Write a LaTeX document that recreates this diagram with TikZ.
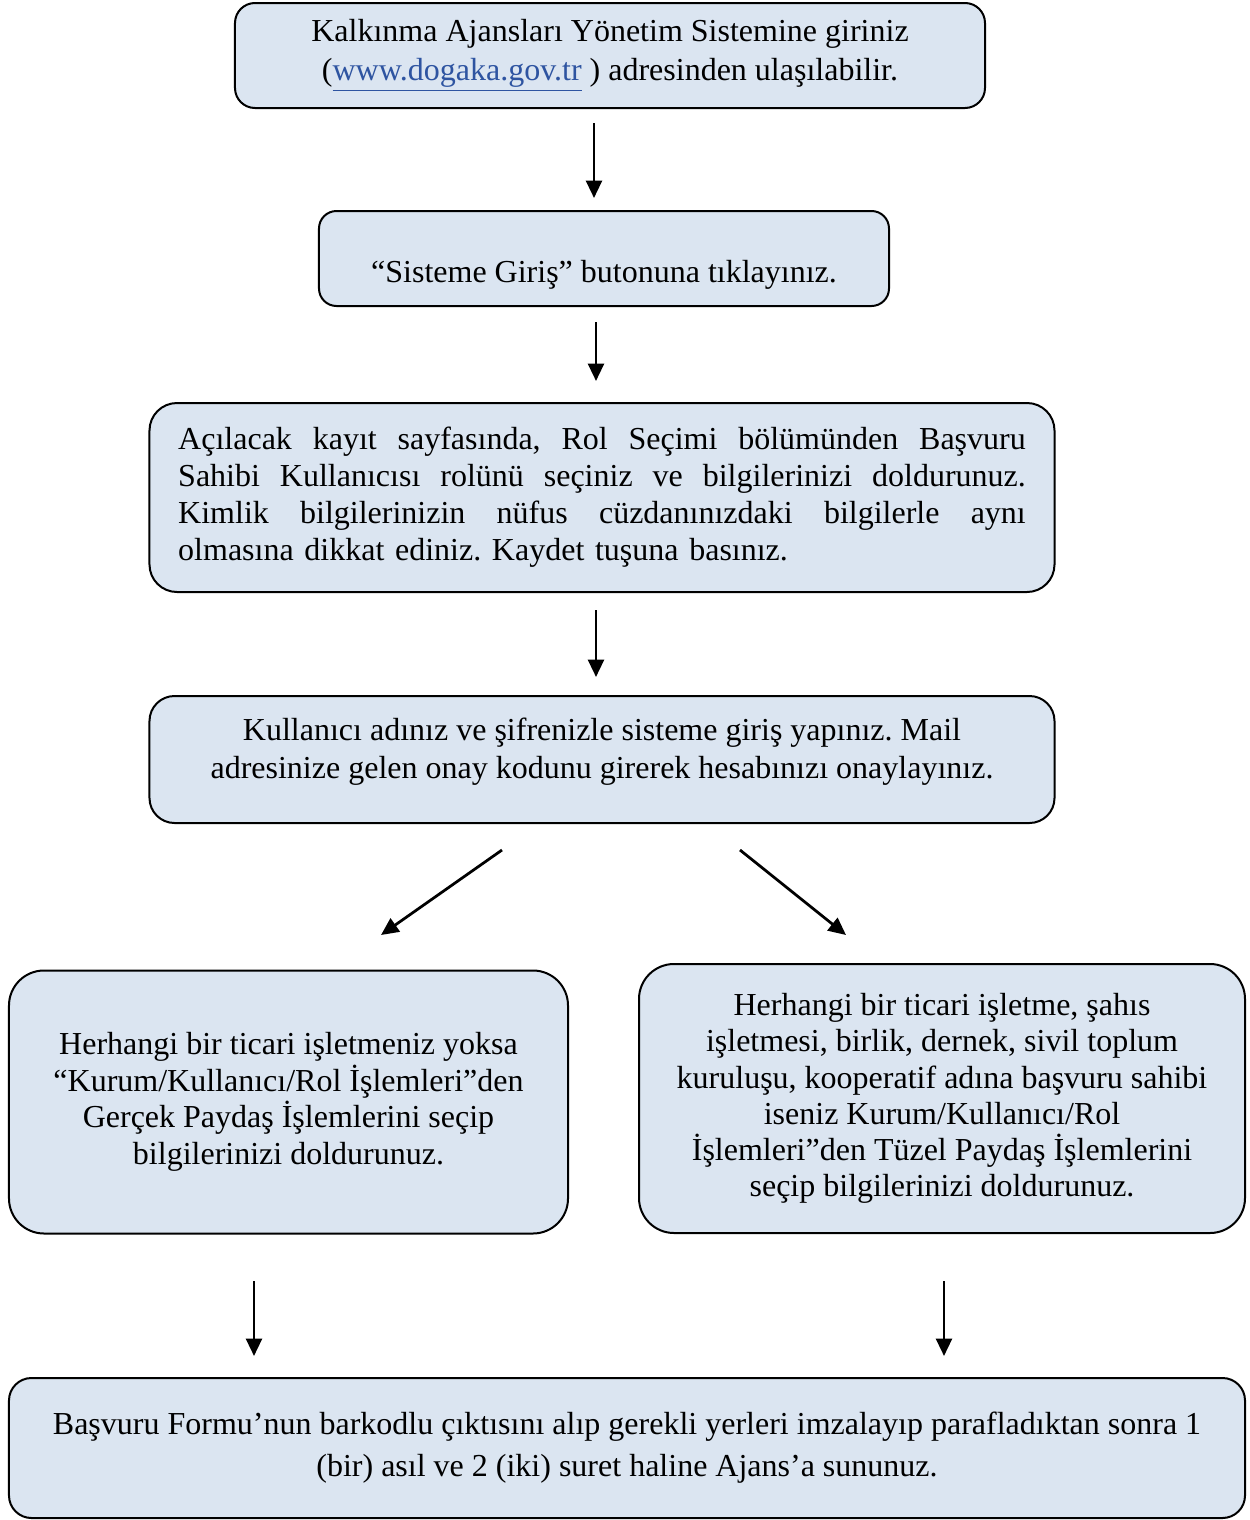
\documentclass[tikz,border=0pt]{standalone}
\usepackage{fontspec}
\setmainfont{Liberation Serif}
\usetikzlibrary{arrows.meta}
\definecolor{boxfill}{HTML}{DBE5F1}
\definecolor{linkblue}{HTML}{2E54A1}
\frenchspacing
\newcommand{\boxfont}[1]{\fontsize{12.8}{#1}\selectfont}
\newcommand{\fullline}[1]{\noindent\hbox to 339pt{\spaceskip=3.2pt plus 1fil\relax #1}}
\tikzset{
	stepbox/.style={draw=black, fill=boxfill, line width=0.8pt, rounded corners=10pt, inner sep=0pt, align=center, font=\boxfont{15}},
	flow/.style={->, line width=1.1pt}
}
\begin{document}
\begin{tikzpicture}[x=0.4pt, y=-0.4pt, >={Triangle[length=7pt, width=6.4pt]}]
			\useasboundingbox (0,0) rectangle (1249,1520);
			% boxes
			\node[stepbox, rounded corners=8pt, minimum width=300pt, minimum height=42pt, font=\boxfont{15.6}] (giris) at (610,55.5)
				{Kalkınma Ajansları Yönetim Sistemine giriniz\\(\textcolor{linkblue}{\underline{www.dogaka.gov.tr}} ) adresinden ulaşılabilir.};
			\node[stepbox, rounded corners=7pt, minimum width=228pt, minimum height=38pt, text height=22pt, text depth=3pt] (buton) at (604,258.5)
				{“Sisteme Giriş” butonuna tıklayınız.};
			\node[stepbox, rounded corners=11pt, minimum width=362pt, minimum height=75.6pt, text width=339pt, align=left, font=\boxfont{14.8}] (kayit) at (602,497.5)
				{\fullline{Açılacak kayıt sayfasında, Rol Seçimi bölümünden Başvuru}\\
				 \fullline{Sahibi Kullanıcısı rolünü seçiniz ve bilgilerinizi doldurunuz.}\\
				 \fullline{Kimlik bilgilerinizin nüfus cüzdanınızdaki bilgilerle aynı}\\
				 olmasına dikkat ediniz. Kaydet tuşuna basınız.};
			\node[stepbox, minimum width=362pt, minimum height=50.8pt, font=\boxfont{15.2}, text height=24.2pt, text depth=9.2pt] (onay) at (602,759.5)
				{Kullanıcı adınız ve şifrenizle sisteme giriş yapınız. Mail\\adresinize gelen onay kodunu girerek hesabınızı onaylayınız.};
			\node[stepbox, rounded corners=14pt, minimum width=223.6pt, minimum height=105.2pt, font=\boxfont{14.6}] (gercek) at (288.5,1102)
				{Herhangi bir ticari işletmeniz yoksa\\“Kurum/Kullanıcı/Rol İşlemleri”den\\Gerçek Paydaş İşlemlerini seçip\\bilgilerinizi doldurunuz.};
			\node[stepbox, rounded corners=14pt, minimum width=242.4pt, minimum height=107.6pt, font=\boxfont{14.5}] (tuzel) at (942,1098.5)
				{Herhangi bir ticari işletme, şahıs\\işletmesi, birlik, dernek, sivil toplum\\kuruluşu, kooperatif adına başvuru sahibi\\iseniz Kurum/Kullanıcı/Rol\\İşlemleri”den Tüzel Paydaş İşlemlerini\\seçip bilgilerinizi doldurunuz.};
			\node[stepbox, rounded corners=9pt, minimum width=494.4pt, minimum height=56pt, font=\boxfont{16.8}] (sunum) at (627,1448)
				{Başvuru Formu’nun barkodlu çıktısını alıp gerekli yerleri imzalayıp parafladıktan sonra 1\\(bir) asıl ve 2 (iki) suret haline Ajans’a sununuz.};
			% arrow ends
			\foreach \x/\y/\z in {594/123/s1, 594/198/e1, 596/322/s2, 596/381/e2, 596/610/s3, 596/677/e3,
				502/850/s4, 381/935/e4, 740/850/s5, 846/935/e5, 254/1281/s6, 254/1356/e6, 944/1281/s7, 944/1356/e7}{
				\coordinate (\z) at (\x,\y);
			}
			\foreach \i in {1,...,7}{
				\draw[flow] (s\i) -- (e\i);
			}
		\end{tikzpicture}
\end{document}
